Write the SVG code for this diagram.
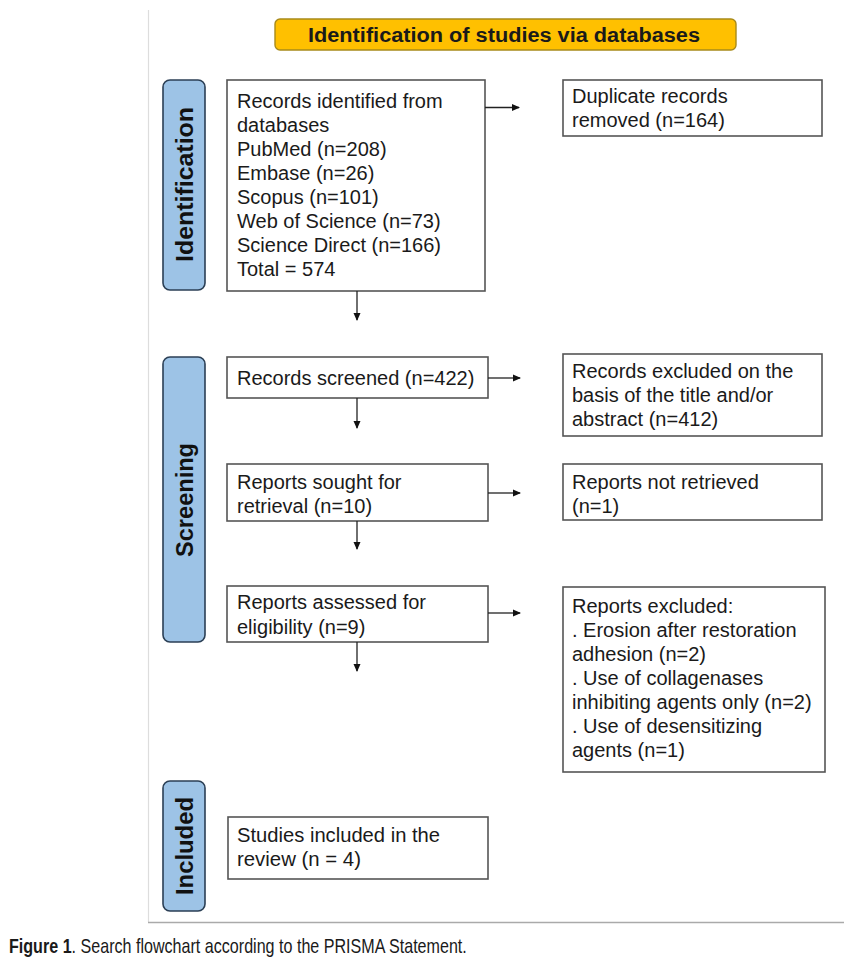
<svg xmlns="http://www.w3.org/2000/svg" width="856" height="973" viewBox="0 0 856 973">
<defs>
<marker id="ah" markerWidth="8" markerHeight="8" refX="7" refY="4" orient="auto" markerUnits="userSpaceOnUse">
<path d="M0,0.5 L8,4 L0,7.5 Z" fill="#111"/>
</marker>
<style>
.box{fill:#fff;stroke:#555;stroke-width:1.6}
.lab{fill:#9dc3e6;stroke:#2b3f55;stroke-width:1.6}
.t{font-family:"Liberation Sans",Arial,sans-serif;font-size:20px;fill:#1a1a1a}
.n{font-family:"Liberation Sans",Arial,sans-serif;font-size:20px;fill:#1a1a1a}
.lt{font-family:"Liberation Sans",Arial,sans-serif;font-size:24px;font-weight:bold;fill:#111;text-anchor:middle}
.c{stroke:#222;stroke-width:1.3;fill:none}
</style>
</defs>
<rect width="856" height="973" fill="#fff"/>
<g id="frame">
<line x1="148.5" y1="10" x2="148.5" y2="922" stroke="#ddd" stroke-width="1.2"/>
<line x1="148" y1="922.5" x2="844" y2="922.5" stroke="#aaa" stroke-width="1.4"/>
</g>
<g id="title">
<rect x="275" y="19" width="461" height="31" rx="5" fill="#ffc000" stroke="#a88a1a" stroke-width="1.4"/>
<text x="308" y="42" class="t" font-weight="bold" font-size="20" textLength="392" lengthAdjust="spacingAndGlyphs">Identification  of studies via databases</text>
</g>
<g id="lab-identification">
<rect x="163" y="80" width="42" height="210" rx="7" class="lab"/>
<text class="lt" transform="translate(193,184.5) rotate(-90)" textLength="155" lengthAdjust="spacingAndGlyphs">Identification</text>
</g>
<g id="lab-screening">
<rect x="163" y="357" width="42" height="285" rx="7" class="lab"/>
<text class="lt" transform="translate(193,500) rotate(-90)" textLength="114" lengthAdjust="spacingAndGlyphs">Screening</text>
</g>
<g id="lab-included">
<rect x="163" y="781" width="42" height="130" rx="7" class="lab"/>
<text class="lt" transform="translate(193,846) rotate(-90)" textLength="98" lengthAdjust="spacingAndGlyphs">Included</text>
</g>
<g id="n-records">
<rect x="227" y="80" width="258" height="211" class="box"/>
<text class="t" x="237" y="108">Records identified  from</text>
<text class="t" x="237" y="132">databases</text>
<text class="t" x="237" y="156">PubMed (n=208)</text>
<text class="t" x="237" y="180">Embase (n=26)</text>
<text class="t" x="237" y="204">Scopus (n=101)</text>
<text class="t" x="237" y="228">Web of Science  (n=73)</text>
<text class="t" x="237" y="252">Science Direct (n=166)</text>
<text class="t" x="237" y="276">Total = 574</text>
</g>
<g id="n-duplicates">
<rect x="563" y="80" width="259" height="56" class="box"/>
<text class="t" x="572" y="103">Duplicate  records</text>
<text class="t" x="572" y="127">removed (n=164)</text>
</g>
<g id="n-screened">
<rect x="227" y="357" width="261" height="41" class="box"/>
<text class="t" x="237" y="385">Records screened (n=422)</text>
</g>
<g id="n-excluded">
<rect x="563" y="354" width="259" height="82" class="box"/>
<text class="t" x="572" y="378">Records excluded  on the</text>
<text class="t" x="572" y="402">basis of the title and/or</text>
<text class="t" x="572" y="426">abstract (n=412)</text>
</g>
<g id="n-sought">
<rect x="227" y="464" width="261" height="57" class="box"/>
<text class="t" x="237" y="489">Reports sought for</text>
<text class="t" x="237" y="513">retrieval (n=10)</text>
</g>
<g id="n-notretrieved">
<rect x="563" y="464" width="259" height="56" class="box"/>
<text class="t" x="572" y="489">Reports not retrieved</text>
<text class="t" x="572" y="513">(n=1)</text>
</g>
<g id="n-assessed">
<rect x="227" y="586" width="261" height="56" class="box"/>
<text class="t" x="237" y="609">Reports assessed for</text>
<text class="t" x="237" y="634">eligibility  (n=9)</text>
</g>
<g id="n-reportsexcluded">
<rect x="563" y="587" width="262" height="185" class="box"/>
<text class="t" x="572" y="613">Reports excluded:</text>
<text class="t" x="572" y="637">. Erosion after restoration</text>
<text class="t" x="572" y="661">adhesion  (n=2)</text>
<text class="t" x="572" y="685">. Use of collagenases</text>
<text class="t" x="572" y="709">inhibiting  agents only  (n=2)</text>
<text class="t" x="572" y="733">. Use of desensitizing</text>
<text class="t" x="572" y="757">agents (n=1)</text>
</g>
<g id="n-included">
<rect x="228" y="817" width="260" height="62" class="box"/>
<text class="n" x="237" y="842" textLength="203" lengthAdjust="spacingAndGlyphs">Studies included  in the</text>
<text class="n" x="237" y="866" textLength="124" lengthAdjust="spacingAndGlyphs">review (n = 4)</text>
</g>
<g id="connectors">
<line class="c" x1="485" y1="107.5" x2="519" y2="107.5" marker-end="url(#ah)"/>
<line class="c" x1="357" y1="291" x2="357" y2="320" marker-end="url(#ah)"/>
<line class="c" x1="488" y1="378" x2="520" y2="378" marker-end="url(#ah)"/>
<line class="c" x1="357" y1="398" x2="357" y2="428" marker-end="url(#ah)"/>
<line class="c" x1="488" y1="493" x2="520" y2="493" marker-end="url(#ah)"/>
<line class="c" x1="357" y1="521" x2="357" y2="549" marker-end="url(#ah)"/>
<line class="c" x1="488" y1="613" x2="520" y2="613" marker-end="url(#ah)"/>
<line class="c" x1="357" y1="642" x2="357" y2="671" marker-end="url(#ah)"/>
</g>
<g id="caption">
<text class="n" transform="translate(9,953) scale(0.805,1)" x="0" y="0" font-size="20"><tspan font-weight="bold">Figure 1</tspan>. Search flowchart according to the PRISMA Statement.</text>
</g>
</svg>
